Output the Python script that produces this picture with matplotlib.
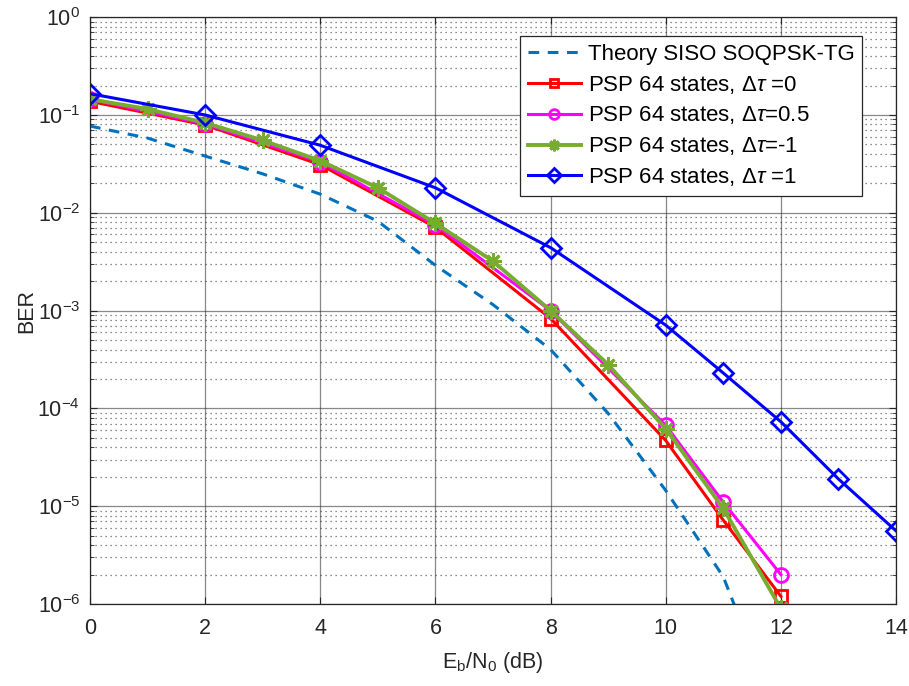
import matplotlib
matplotlib.use("Agg")
import matplotlib.pyplot as plt
import matplotlib.ticker as tick
import numpy as np

plt.rcParams['font.family'] = ['Liberation Sans', 'DejaVu Sans']
plt.rcParams['mathtext.fontset'] = 'custom'
plt.rcParams['mathtext.rm'] = 'Liberation Sans'
plt.rcParams['mathtext.it'] = 'Liberation Sans:italic'
plt.rcParams['mathtext.default'] = 'regular'

# theory curve
theory_snr = [0, 1, 2, 3, 4, 5, 6, 7, 8, 9, 10, 11, 11.2]
theory_ber = [0.077, 0.058, 0.038, 0.025, 0.0155, 0.0082, 0.0029, 1.15e-3,
              4.0e-4, 8.9e-5, 1.45e-5, 1.9e-6, 9.5e-7]

psp_snr = [0, 2, 4, 6, 8, 10, 11, 12]
psp_tau0 = [0.138, 0.079, 0.031, 0.0071, 8.3e-4, 4.7e-5, 7.2e-6, 1.2e-6]
psp_tau05 = [0.145, 0.081, 0.033, 0.0075, 1.0e-3, 6.7e-5, 1.1e-5, 2.0e-6]

green_snr = [0, 1, 2, 3, 4, 5, 6, 7, 8, 9, 10, 11, 12]
psp_taum1 = [0.145, 0.115, 0.083, 0.055, 0.034, 0.018, 0.0078, 0.0032,
             1.0e-3, 2.8e-4, 6.2e-5, 9.5e-6, 9.0e-7]

blue_snr = [0, 2, 4, 6, 8, 10, 11, 12, 13, 14]
psp_tau1 = [0.165, 0.1, 0.049, 0.018, 0.0044, 7.1e-4, 2.3e-4, 7.3e-5,
            1.9e-5, 5.6e-6]

fig = plt.figure(figsize=(9.09, 6.86), dpi=100)
ax = fig.add_axes([0.099, 0.1195, 0.8867, 0.8555])

ax.semilogy(theory_snr, theory_ber, '--', color='#0072BD', lw=2.2,
            dashes=(3.5, 2.8), label='Theory SISO SOQPSK-TG')
ax.semilogy(psp_snr, psp_tau0, '-s', color='red', lw=2.2, ms=9,
            mfc='none', mew=2, label=r'PSP 64 states, $\Delta\mathit{\tau}$ =0')
ax.semilogy(psp_snr, psp_tau05, '-o', color='magenta', lw=2.2, ms=10,
            mfc='none', mew=2, label=r'PSP 64 states, $\Delta\mathit{\tau}$=0.5')
ax.semilogy(green_snr, psp_taum1, '-', marker=(8, 2, 0), color='#77AC30', lw=2.8, ms=12,
            mew=2, label=r'PSP 64 states, $\Delta\mathit{\tau}$=-1')
ax.semilogy(blue_snr, psp_tau1, '-D', color='blue', lw=2.2, ms=10,
            mfc='none', mew=2, label=r'PSP 64 states, $\Delta\mathit{\tau}$ =1')

ax.set_xlim(0, 14)
ax.set_ylim(1e-6, 1)
ax.set_xticks(np.arange(0, 15, 2))
ax.yaxis.set_major_locator(tick.LogLocator(base=10, numticks=10))
ax.yaxis.set_minor_locator(tick.LogLocator(base=10, subs=np.arange(2, 10), numticks=20))
ax.yaxis.set_minor_formatter(tick.NullFormatter())

ax.grid(True, which='major', color='#262626', lw=0.9, alpha=0.55)
ax.grid(True, which='minor', axis='y', color='#262626', lw=0.9, ls=(0, (1, 3)), alpha=0.7)
ax.tick_params(which='both', direction='in', top=True, right=True,
               labelsize=15.5, colors='#262626', labelcolor='#262626')
ax.tick_params(axis='x', pad=10)
ax.tick_params(axis='y', pad=7)
ax.tick_params(which='major', length=5)
ax.tick_params(which='minor', length=3)
for s in ax.spines.values():
    s.set_color('#262626')
    s.set_linewidth(0.9)

ax.set_xlabel(r'E$_\mathregular{b}$/N$_\mathregular{0}$ (dB)', fontsize=15.5,
              color='#262626', labelpad=8)
ax.set_ylabel('BER', fontsize=15.5, color='#262626', labelpad=0)

leg = ax.legend(loc='upper right', bbox_to_anchor=(0.958, 0.968), fontsize=16,
                fancybox=False, edgecolor='#262626', framealpha=1,
                handlelength=2.4, borderpad=0.35, labelspacing=0.4,
                handletextpad=0.3, borderaxespad=0, markerscale=0.7)
leg.get_frame().set_linewidth(0.9)

fig.savefig('out.png', dpi=100)
